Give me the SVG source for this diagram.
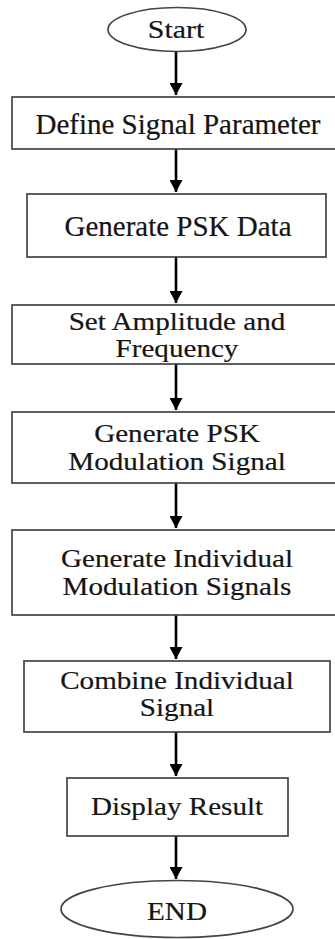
<svg xmlns="http://www.w3.org/2000/svg" width="335" height="939" viewBox="0 0 335 939">
  <style>
    .shape { fill: #ffffff; stroke: #444444; stroke-width: 1.7; }
    .link { stroke: #000000; stroke-width: 2.6; fill: none; marker-end: url(#head); }
    .label { font-family: "Liberation Serif", "Times New Roman", serif; fill: #151515; stroke: #151515; stroke-width: 0.2; text-anchor: middle; }
    .big { font-size: 29px; }
    .std { font-size: 26px; }
  </style>
  <defs>
    <marker id="head" viewBox="0 0 12 13" refX="12" refY="6.5" markerWidth="12" markerHeight="13" markerUnits="userSpaceOnUse" orient="auto">
      <path d="M0,0 L12,6.5 L0,13 Z" fill="#000000"/>
    </marker>
  </defs>
  <rect width="335" height="939" fill="#ffffff"/>

  <g id="connectors">
    <line class="link" x1="176" y1="52" x2="176" y2="95"/>
    <line class="link" x1="176" y1="149" x2="176" y2="192"/>
    <line class="link" x1="176" y1="257" x2="176" y2="303"/>
    <line class="link" x1="176" y1="364" x2="176" y2="410"/>
    <line class="link" x1="176" y1="483" x2="176" y2="528"/>
    <line class="link" x1="176" y1="615" x2="176" y2="659"/>
    <line class="link" x1="176" y1="732" x2="176" y2="776"/>
    <line class="link" x1="176" y1="836" x2="176" y2="879"/>
  </g>

  <g id="start">
    <ellipse class="shape" cx="177" cy="29.5" rx="69" ry="22"/>
    <text class="label std" transform="translate(176,38) scale(1.15,1)" x="0" y="0">Start</text>
  </g>

  <g id="define-parameter">
    <rect class="shape" x="12" y="97" width="330" height="52"/>
    <text class="label big" x="178" y="134">Define Signal Parameter</text>
  </g>

  <g id="generate-data">
    <rect class="shape" x="27" y="194" width="299" height="63"/>
    <text class="label big" x="178" y="236">Generate PSK Data</text>
  </g>

  <g id="set-amplitude">
    <rect class="shape" x="12" y="305" width="330" height="59"/>
    <g transform="translate(177,0) scale(1.12,1)">
      <text class="label std" x="0" y="330">Set Amplitude and</text>
      <text class="label std" x="0" y="357">Frequency</text>
    </g>
  </g>

  <g id="psk-modulation">
    <rect class="shape" x="12" y="412" width="330" height="71"/>
    <g transform="translate(177,0) scale(1.12,1)">
      <text class="label std" x="0" y="442">Generate PSK</text>
      <text class="label std" x="0" y="470">Modulation Signal</text>
    </g>
  </g>

  <g id="individual-modulation">
    <rect class="shape" x="12" y="530" width="330" height="85"/>
    <g transform="translate(177,0) scale(1.12,1)">
      <text class="label std" x="0" y="567">Generate Individual</text>
      <text class="label std" x="0" y="595">Modulation Signals</text>
    </g>
  </g>

  <g id="combine-signal">
    <rect class="shape" x="24" y="661" width="306" height="71"/>
    <g transform="translate(177,0) scale(1.12,1)">
      <text class="label std" x="0" y="689">Combine Individual</text>
      <text class="label std" x="0" y="716">Signal</text>
    </g>
  </g>

  <g id="display-result">
    <rect class="shape" x="67" y="778" width="221" height="58"/>
    <text class="label std" transform="translate(177,815) scale(1.12,1)" x="0" y="0">Display Result</text>
  </g>

  <g id="end">
    <ellipse class="shape" cx="177" cy="909" rx="116" ry="28.5"/>
    <text class="label std" transform="translate(177,920) scale(1.12,1)" x="0" y="0">END</text>
  </g>
</svg>
